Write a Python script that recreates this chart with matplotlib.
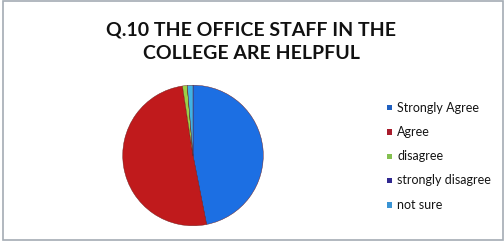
import matplotlib
matplotlib.use("Agg")
import matplotlib.pyplot as plt
from matplotlib.patches import Rectangle

categories = ["Strongly Agree", "Agree", "disagree", "strongly disagree", "not sure"]
values = [46.9, 50.7, 1.1, 0.0, 1.3]
title = "Q.10 THE OFFICE STAFF IN THE\nCOLLEGE ARE HELPFUL"

pie_colors = ["#1c6fe3", "#c01a1c", "#9ccf45", "#3a2e9a", "#3fb2e6"]
legend_colors = ["#2060c0", "#a81c2c", "#84c050", "#302890", "#3a94d4"]

plt.rcParams['font.family'] = ['Lato', 'DejaVu Sans']

fig = plt.figure(figsize=(5.04, 2.41), dpi=100)
fig.patch.set_facecolor("white")

ax = fig.add_axes([0.0, 0.0, 1.0, 1.0])
ax.set_xlim(0, 504)
ax.set_ylim(241, 0)
ax.axis('off')

# pie in its own axes
cx, cy, r = 193, 155.5, 71
pax = fig.add_axes([(cx - r) / 504, 1 - (cy + r) / 241, 2 * r / 504, 2 * r / 241])
pax.pie(values, colors=pie_colors, startangle=90, counterclock=False,
        wedgeprops=dict(linewidth=0.3, edgecolor="#6a1818"))
pax.set_aspect('auto')
pax.set_xlim(-1.01, 1.01)
pax.set_ylim(-1.01, 1.01)

# title
ax.text(251, 42, title, ha='center', va='center', fontsize=14, fontweight='bold',
        color='#111111', linespacing=1.45)

# legend
ys = [107.5, 132, 156.5, 180.5, 205]
for lab, col, y in zip(categories, legend_colors, ys):
    ax.add_patch(Rectangle((386.5, y - 3), 5.5, 5.5, facecolor=col, edgecolor='none'))
    ax.text(397, y, lab, ha='left', va='center', fontsize=9, color='#151515')

# border
ax.add_patch(Rectangle((2.5, 1), 500.5, 239, fill=False, edgecolor='#a4acb4', linewidth=1.2))

fig.savefig("out.png", dpi=100)
